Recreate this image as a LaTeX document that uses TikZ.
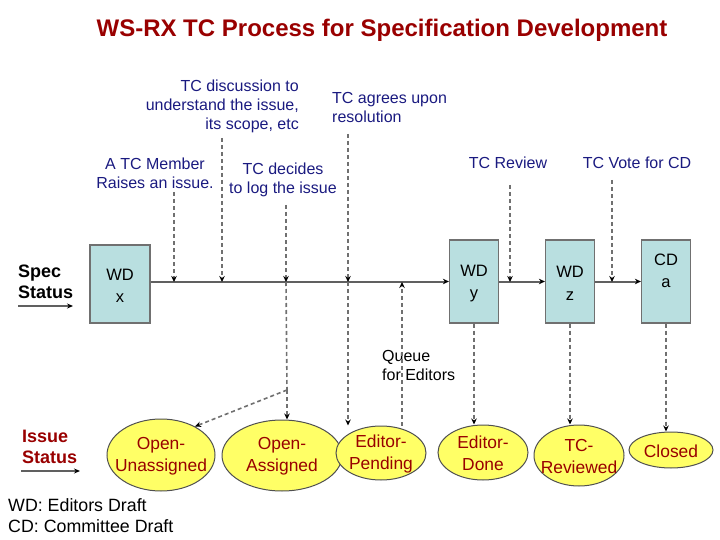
\documentclass[tikz,border=0pt]{standalone}
\usepackage{fontspec}
\setmainfont{Liberation Sans}
\usetikzlibrary{arrows.meta,shapes.geometric}
\definecolor{ttl}{HTML}{990000}
\definecolor{lblblue}{HTML}{1A1A80}
\definecolor{boxfill}{HTML}{B9DFE0}
\definecolor{boxline}{HTML}{707070}
\definecolor{ellfill}{HTML}{FFFF66}
\definecolor{ellline}{HTML}{505050}
\definecolor{dashgray}{HTML}{707070}
\definecolor{specgray}{HTML}{606060}
\begin{document}
\begin{tikzpicture}[x=1pt,y=-1pt,
  lbl/.style={text=lblblue,font=\fontsize{16}{19}\selectfont,inner sep=0pt},
  wdbox/.style={draw=boxline,fill=boxfill,line width=1.2pt,minimum width=49pt,minimum height=83pt,inner sep=0pt},
  boxtext/.style={align=center,inner sep=0pt,font=\fontsize{16.5}{22.5}\selectfont},
  state/.style={ellipse,draw=ellline,fill=ellfill,line width=1pt,inner sep=0pt},
  stext/.style={text=ttl,align=center,inner sep=0pt,font=\fontsize{17.4}{22}\selectfont},
  dline/.style={draw=dashgray,line width=1.6pt,dash pattern=on 4pt off 3pt},
  darr/.style={dline,-{Stealth[length=6pt,width=5.5pt,color=black]}},
  sline/.style={draw=specgray,line width=2pt,-{Stealth[length=6pt,width=5.5pt,color=black]}},
  side/.style={align=left,inner sep=0pt,font=\bfseries\fontsize{18}{21}\selectfont},
  legend/.style={anchor=west,inner sep=0pt,font=\fontsize{17.8}{21}\selectfont}
]
\useasboundingbox (0,0) rectangle (720,540);

% title
\node[text=ttl,font=\bfseries\fontsize{24}{28}\selectfont,inner sep=0pt] (title) at (382,30) {WS-RX TC Process for Specification Development};

% side labels
\node[side,anchor=west] (spec) at (18,282) {Spec\\Status};
\coordinate (sa1) at (18,306); \coordinate (sa2) at (73,306);
\draw[specgray,line width=1.2pt,-{Stealth[length=6pt,width=5pt,color=black]}] (sa1) -- (sa2);
\node[side,anchor=west,text=ttl] (issue) at (22,446.5) {Issue\\Status};
\coordinate (ia1) at (21,471); \coordinate (ia2) at (80,471);
\draw[specgray,line width=1.2pt,-{Stealth[length=6pt,width=5pt,color=black]}] (ia1) -- (ia2);

% boxes
\node[wdbox,minimum width=60pt,minimum height=78pt] (wdx) at (120,284) {};
\node[boxtext] (wdxt) at (120,286) {WD\\x};
\node[wdbox] (wdy) at (474,281.5) {};
\node[boxtext] (wdyt) at (474,283.5) {WD\\y};
\node[wdbox] (wdz) at (570,281.5) {};
\node[boxtext] (wdzt) at (570,283.5) {WD\\z};
\node[wdbox] (cda) at (666,281.5) {};
\node[boxtext] (cdat) at (666,271) {CD\\a};

% spec line
\draw[sline] (wdx.east |- wdy.west) -- (wdy.west);
\draw[sline] (wdy.east) -- (wdz.west);
\draw[sline] (wdz.east) -- (cda.west);

% ellipses
\node[state,minimum width=108pt,minimum height=72pt] (opu) at (161,455) {};
\node[stext] (oput) at (161,456) {Open-\\Unassigned};
\node[state,minimum width=120pt,minimum height=71pt] (opa) at (282,455.5) {};
\node[stext] (opat) at (282,456) {Open-\\Assigned};
\node[state,minimum width=90pt,minimum height=54pt] (edp) at (381,453) {};
\node[stext] (edpt) at (381,454) {Editor-\\Pending};
\node[state,minimum width=90pt,minimum height=55pt] (edd) at (483,452.5) {};
\node[stext] (eddt) at (483,453.5) {Editor-\\Done};
\node[state,minimum width=90pt,minimum height=61pt] (trv) at (579,455.5) {};
\node[stext] (trvt) at (579,457) {TC-\\Reviewed};
\node[state,minimum width=84pt,minimum height=36pt] (cls) at (671,450) {};
\node[stext] (clst) at (671,451) {Closed};

% labels
\node[lbl,align=right,anchor=east] (ldisc) at (299,106) {TC discussion to\\understand the issue,\\its scope, etc};
\node[lbl,align=left,anchor=west] (lagree) at (332,107.5) {TC agrees upon\\resolution};
\node[lbl,align=center] (lraise) at (155,173) {A TC Member\\Raises an issue.};
\node[lbl,align=center] (ldecide) at (283,180) {TC decides\\to log the issue};
\node[lbl] (lreview) at (508,163) {TC Review};
\node[lbl] (lvote) at (637,163) {TC Vote for CD};
\node[lbl,text=black,align=left,anchor=west] (lqueue) at (382,365.5) {Queue\\for Editors};

% coordinates on the spec line and tops
\coordinate (t1) at (174,192); \coordinate (p1) at (174,282);
\coordinate (t2) at (222,138); \coordinate (p2) at (222,282);
\coordinate (t3) at (286,205); \coordinate (p3) at (286,282); \coordinate (b3) at (287,390);
\coordinate (t4) at (348,134); \coordinate (p4) at (348,282);
\coordinate (p5) at (402,282);
\coordinate (t6) at (510,185); \coordinate (p6) at (510,282);
\coordinate (t7) at (612,180); \coordinate (p7) at (612,282);

\draw[darr] (t1) -- (p1);
\draw[darr] (t2) -- (p2);
\draw[darr] (t3) -- (p3);
\draw[dline] (p3) -- (b3);
\draw[darr] (b3) -- (b3 |- opa.north);
\draw[darr] (b3) -- (opu.40);
\draw[darr] (t4) -- (p4);
\draw[darr] (p4) -- (p4 |- edp.north);
\draw[darr] (p5 |- edp.north) -- (p5);
\draw[darr] (t6) -- (p6);
\draw[darr] (t7) -- (p7);

\draw[darr] (wdy.south) -- (wdy.south |- edd.north);
\draw[darr] (wdz.south) -- (wdz.south |- trv.north);
\draw[darr] (cda.south) -- (cda.south |- cls.north);

% legend
\node[legend] (leg1) at (8,505) {WD: Editors Draft};
\node[legend] (leg2) at (8,526) {CD: Committee Draft};
\end{tikzpicture}
\end{document}
